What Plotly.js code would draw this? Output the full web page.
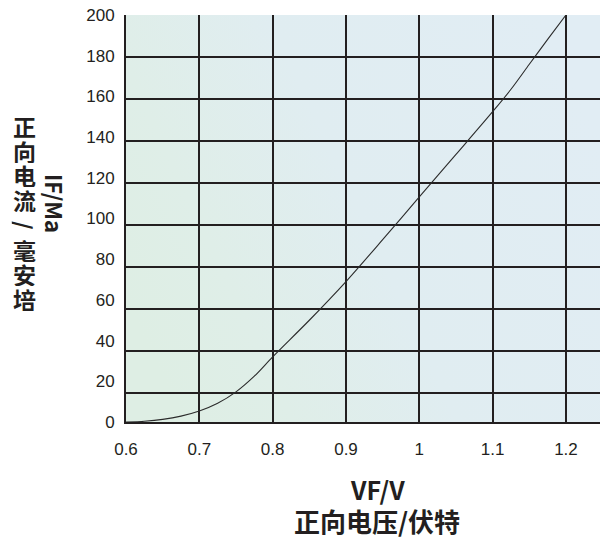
<!DOCTYPE html>
<html>
<head>
<meta charset="utf-8">
<script src="https://cdn.plot.ly/plotly-3.0.1.min.js"></script>
<style>html,body{margin:0;padding:0;background:#fff;}#chart{width:600px;height:539px;}</style>
</head>
<body>
<div id="chart"></div>
<script>
// Forward voltage (V) and forward current (mA)
const vf = [0.6, 0.625, 0.65, 0.675, 0.7, 0.725, 0.75, 0.775, 0.8, 0.85, 0.9, 0.95, 1.0, 1.05, 1.1, 1.125, 1.15, 1.175, 1.2];
const iF = [0, 0.4, 1.3, 2.9, 5.4, 9.2, 14.8, 22.5, 32, 50, 69, 89.6, 110.6, 131.5, 152.5, 163.5, 175.8, 188, 200];
const xTickVals = [0.6, 0.7, 0.8, 0.9, 1.0, 1.1, 1.2];
const xTickText = ['0.6', '0.7', '0.8', '0.9', '1', '1.1', '1.2'];
const yTickVals = [0, 20, 40, 60, 80, 100, 120, 140, 160, 180, 200];
const xTitle = 'VF/V';
const xTitleCn = '正向电压/伏特';
const yTitle = 'IF/Ma';
const yTitleCnChars = ['正', '向', '电', '流', '/', '毫', '安', '培'];

const M = {l: 126, r: 0, t: 15, b: 117};
const gridColor = '#231f20';
const cjk = '"Noto Sans CJK SC", "Noto Sans", sans-serif';

const svg = "<svg xmlns='http://www.w3.org/2000/svg' width='474' height='407' preserveAspectRatio='none'>" +
  "<defs><linearGradient id='g' x1='0' y1='0.7' x2='1' y2='0.3'>" +
  "<stop offset='0' stop-color='#deeee4'/><stop offset='0.2' stop-color='#dfeee8'/>" +
  "<stop offset='0.5' stop-color='#e0edf1'/><stop offset='1' stop-color='#e1edf4'/></linearGradient></defs>" +
  "<rect width='474' height='407' fill='url(#g)'/></svg>";
const bgSrc = 'data:image/svg+xml;charset=utf-8,' + encodeURIComponent(svg);

const trace = {
  x: vf, y: iF, type: 'scatter', mode: 'lines',
  line: {color: '#2b2b2b', width: 1.1, shape: 'spline', smoothing: 0.8},
  hoverinfo: 'skip', showlegend: false
};

function ann(text, px, py, size, extra) {
  return Object.assign({
    text: text, xref: 'paper', yref: 'paper', x: 0, y: 0,
    xshift: px - M.l, yshift: (539 - M.b) - py,
    xanchor: 'center', yanchor: 'middle', showarrow: false,
    font: {family: cjk, size: size, color: '#231f20', weight: 700}
  }, extra || {});
}

const annotations = [
  ann(xTitle, 377, 489, 25),
  ann(xTitleCn, 377, 520, 26),
  ann(yTitle, 55, 203, 22, {textangle: 90})
];
yTitleCnChars.forEach(function (ch, i) {
  annotations.push(ann(ch, 24, 126 + i * 24.7, 23,
    ch === '/' ? {textangle: 90, height: 24} : {height: 24}));
});

const layout = {
  width: 600, height: 539,
  margin: M,
  paper_bgcolor: '#ffffff',
  plot_bgcolor: '#e0edf3',
  showlegend: false,
  font: {family: '"Liberation Sans", Arial, sans-serif', size: 17, color: '#231f20'},
  xaxis: {
    range: [0.6, 0.6 + 474 / 733.3], tickmode: 'array', tickvals: xTickVals, ticktext: xTickText,
    showgrid: true, gridcolor: gridColor, gridwidth: 2, zeroline: false,
    showline: true, linecolor: gridColor, linewidth: 2,
    ticks: '', ticklabelstandoff: 11, fixedrange: true
  },
  yaxis: {
    range: [0, 200], tickmode: 'array', tickvals: yTickVals,
    showgrid: false, zeroline: false,
    showline: true, linecolor: gridColor, linewidth: 2,
    ticks: '', ticklabelstandoff: 6, fixedrange: true
  },
  yaxis2: {
    overlaying: 'y', range: [0, 200], tick0: 200, dtick: 200 * 42 / 407,
    showgrid: true, gridcolor: gridColor, gridwidth: 2, zeroline: false,
    showticklabels: false, ticks: '', showline: false, fixedrange: true
  },
  images: [{source: bgSrc, xref: 'paper', yref: 'paper', x: 0, y: 1, sizex: 1, sizey: 1,
    xanchor: 'left', yanchor: 'top', sizing: 'stretch', layer: 'below'}],
  annotations: annotations
};

// invisible helper trace that activates the yaxis2 gridlines
const gridTrace = {x: [0.6], y: [0], yaxis: 'y2', type: 'scatter', mode: 'markers',
  marker: {opacity: 0}, hoverinfo: 'skip', showlegend: false};

Plotly.newPlot('chart', [gridTrace, trace], layout, {staticPlot: true, displayModeBar: false});
</script>
</body>
</html>
